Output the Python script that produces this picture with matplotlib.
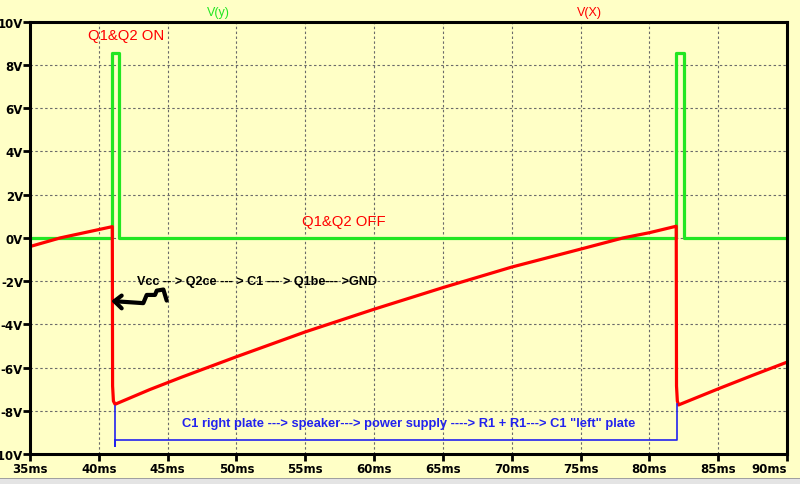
import matplotlib.pyplot as plt
from matplotlib.patches import Rectangle

# ---------- DATA ----------
# V(y): green pulse trace
t_vy = [35.0, 40.94, 40.94, 41.47, 41.47, 81.95, 81.95, 82.48, 82.48, 90.0]
v_vy = [0.0, 0.0, 8.55, 8.55, 0.0, 0.0, 8.55, 8.55, 0.0, 0.0]

# V(X): red capacitor ramp trace
t_vx = [35.0, 37.2, 40.98, 41.0, 41.06, 41.18, 43.7, 46.0, 50.0, 55.0,
        60.0, 65.0, 70.0, 75.0, 78.1, 80.0, 81.95, 81.97, 82.03, 82.12,
        85.1, 87.5, 90.0]
v_vx = [-0.40, 0.0, 0.52, -6.85, -7.55, -7.70, -7.02, -6.45, -5.50, -4.35,
        -3.30, -2.30, -1.35, -0.52, 0.0, 0.24, 0.54, -6.85, -7.55, -7.73,
        -6.96, -6.36, -5.75]

x_ticks = [35, 40, 45, 50, 55, 60, 65, 70, 75, 80, 85, 90]
x_labels = ["35ms", "40ms", "45ms", "50ms", "55ms", "60ms",
            "65ms", "70ms", "75ms", "80ms", "85ms", "90ms"]
y_ticks = [10, 8, 6, 4, 2, 0, -2, -4, -6, -8, -10]
y_labels = ["10V", "8V", "6V", "4V", "2V", "0V",
            "-2V", "-4V", "-6V", "-8V", "-10V"]

# hand drawn arrow next to the Vcc path note
arrow_t = [41.13, 43.23, 43.48, 44.08, 44.21, 44.69, 44.93]
arrow_v = [-2.93, -3.02, -2.64, -2.64, -2.44, -2.39, -2.90]
barb_t = [41.66, 41.13, 41.66]
barb_v = [-2.67, -2.93, -3.26]

# blue bracket under the discharge path
brk_t = [41.18, 41.18, 41.18, 82.0, 82.0]
brk_v = [-7.76, -9.62, -9.35, -9.35, -7.69]

BG = "#ffffc6"
RED = "#ff0000"
GREEN = "#22e622"
BLUE = "#2222ee"

# ---------- FIGURE ----------
fig = plt.figure(figsize=(8, 4.85), dpi=100, facecolor=BG)
ax = fig.add_axes([0.0375, 0.0619, 0.9463, 0.8911], facecolor=BG)

ax.set_xlim(35, 90)
ax.set_ylim(-10, 10)

ax.grid(True, color="#6a6a6a", linestyle=(0, (2.2, 2.2)), linewidth=0.8)
ax.set_axisbelow(True)

ax.plot(t_vy, v_vy, color=GREEN, linewidth=2.3, solid_joinstyle="round")
ax.plot(t_vx, v_vx, color=RED, linewidth=2.3, solid_joinstyle="round")

for s in ax.spines.values():
    s.set_linewidth(2.2)
    s.set_color("black")

ax.set_xticks(x_ticks)
ax.set_xticklabels(x_labels)
ax.set_yticks(y_ticks)
ax.set_yticklabels(y_labels)
ax.tick_params(axis="both", direction="out", length=5, width=2,
               labelsize=8.5, pad=1)
ax.tick_params(axis="y", pad=0)
for lab in ax.get_xticklabels() + ax.get_yticklabels():
    lab.set_fontweight("bold")
    lab.set_family("DejaVu Sans")
# LTspice keeps the last time label inside the window
ax.get_xticklabels()[-1].set_ha("right")
ax.get_xticklabels()[-1].set_x(90.4)

# ---------- ANNOTATIONS ----------
fig.text(0.2725, 0.973, "V(y)", color=GREEN, fontsize=9,
         family="Liberation Sans", ha="center", va="center")
fig.text(0.737, 0.973, "V(X)", color=RED, fontsize=9,
         family="Liberation Sans", ha="center", va="center")

ax.text(42.01, 9.37, "Q1&Q2 ON", color=RED, fontsize=10.7,
        family="Liberation Sans", ha="center", va="center")
ax.text(57.78, 0.76, "Q1&Q2 OFF", color=RED, fontsize=10.7,
        family="Liberation Sans", ha="center", va="center")
ax.text(51.46, -1.99, "Vcc -- > Q2ce --- > C1 --- > Q1be--- >GND",
        color="black", fontsize=9.1, fontweight="bold",
        family="Liberation Sans", ha="center", va="center")

ax.plot(arrow_t, arrow_v, color="black", linewidth=3,
        solid_joinstyle="round", solid_capstyle="round")
ax.plot(barb_t, barb_v, color="black", linewidth=3,
        solid_joinstyle="round", solid_capstyle="round")

ax.plot(brk_t, brk_v, color=BLUE, linewidth=1.2, clip_on=False)
ax.text(62.54, -8.56,
        'C1 right plate ---> speaker---> power supply ----> R1 + R1---> C1 "left" plate',
        color=BLUE, fontsize=9.3, fontweight="bold",
        family="Liberation Sans", ha="center", va="center")

# window border strip at the bottom of the screenshot
fig.patches.append(Rectangle((0, 0), 1, 0.01, transform=fig.transFigure,
                             facecolor="#e4e4e4", edgecolor="none"))
fig.patches.append(Rectangle((0, 0.0095), 1, 0.002, transform=fig.transFigure,
                             facecolor="#a0a0a0", edgecolor="none"))

fig.savefig("out.png", dpi=100, facecolor=BG)
